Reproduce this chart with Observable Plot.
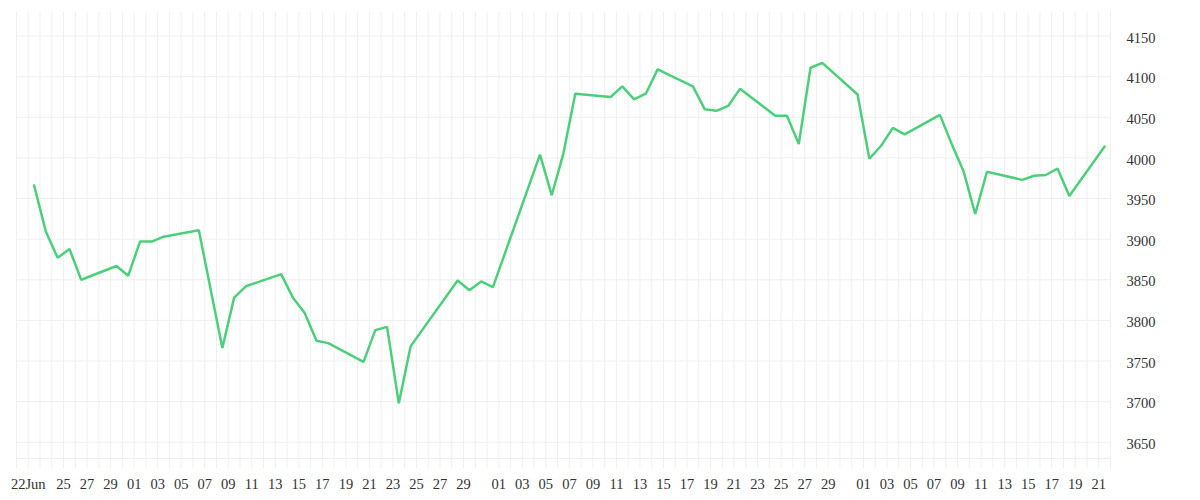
<!DOCTYPE html>
<html>
<head>
<meta charset="utf-8">
<script src="https://cdn.jsdelivr.net/npm/d3@7"></script>
<script src="https://cdn.jsdelivr.net/npm/@observablehq/plot@0.6"></script>
<style>
  html, body { margin: 0; padding: 0; background: #ffffff; }
  #chart svg { display: block; }
  #chart svg text { font-family: "Liberation Serif", "Times New Roman", "DejaVu Serif", serif !important; font-size: 14.5px !important; }
</style>
</head>
<body>
<div id="chart"></div>
<script>
// ---- data ----
const dates = [
  "2020-06-22","2020-06-23","2020-06-24","2020-06-25","2020-06-26","2020-06-29","2020-06-30",
  "2020-07-01","2020-07-02","2020-07-03","2020-07-06","2020-07-08","2020-07-09","2020-07-10",
  "2020-07-13","2020-07-14","2020-07-15","2020-07-16","2020-07-17","2020-07-20","2020-07-21",
  "2020-07-22","2020-07-23","2020-07-24","2020-07-28","2020-07-29","2020-07-30","2020-07-31",
  "2020-08-04","2020-08-05","2020-08-06","2020-08-07","2020-08-10","2020-08-11","2020-08-12",
  "2020-08-13","2020-08-14","2020-08-17","2020-08-18","2020-08-19","2020-08-20","2020-08-21",
  "2020-08-24","2020-08-25","2020-08-26","2020-08-27","2020-08-28","2020-08-31",
  "2020-09-01","2020-09-02","2020-09-03","2020-09-04","2020-09-07","2020-09-08","2020-09-09",
  "2020-09-10","2020-09-11","2020-09-14","2020-09-15","2020-09-16","2020-09-17","2020-09-18",
  "2020-09-21"
];
const values = [
  3966, 3909, 3877, 3888, 3850, 3867, 3855,
  3897, 3897, 3903, 3911, 3766, 3828, 3842,
  3857, 3828, 3809, 3775, 3772, 3749, 3788,
  3792, 3698, 3768, 3849, 3837, 3848, 3841,
  4004, 3954, 4006, 4079, 4075, 4088, 4072,
  4079, 4109, 4088, 4060, 4058, 4064, 4085,
  4052, 4052, 4017, 4111, 4117, 4078,
  3999, 4015, 4037, 4029, 4053, 4017, 3984,
  3931, 3983, 3973, 3978, 3979, 3987, 3953,
  4014
];
const yTicks = [3650, 3700, 3750, 3800, 3850, 3900, 3950, 4000, 4050, 4100, 4150];
const xLabelDates = [
  "2020-06-22","2020-06-25","2020-06-27","2020-06-29",
  "2020-07-01","2020-07-03","2020-07-05","2020-07-07","2020-07-09","2020-07-11","2020-07-13",
  "2020-07-15","2020-07-17","2020-07-19","2020-07-21","2020-07-23","2020-07-25","2020-07-27","2020-07-29",
  "2020-08-01","2020-08-03","2020-08-05","2020-08-07","2020-08-09","2020-08-11","2020-08-13",
  "2020-08-15","2020-08-17","2020-08-19","2020-08-21","2020-08-23","2020-08-25","2020-08-27","2020-08-29",
  "2020-09-01","2020-09-03","2020-09-05","2020-09-07","2020-09-09","2020-09-11","2020-09-13",
  "2020-09-15","2020-09-17","2020-09-19","2020-09-21"
];
const xDomain = ["2020-06-21", "2020-09-22"];
const yDomain = [3630, 4179];

// ---- build ----
const parse = d3.utcParse("%Y-%m-%d");
const series = dates.map((d, i) => ({date: d3.utcHour.offset(parse(d), 12), value: values[i]}));
const xStart = parse(xDomain[0]);
const xEnd = parse(xDomain[1]);
const dayTicks = d3.utcDay.range(xStart, d3.utcDay.offset(xEnd, 1));
const labelTicks = xLabelDates.map(parse);

const gridColor = "#efefef";
const textColor = "#333333";
const lineColor = "#4ccf7b";

const chart = Plot.plot({
  width: 1200,
  height: 500,
  marginTop: 12,
  marginBottom: 42,
  marginLeft: 16,
  marginRight: 90,
  style: {fontFamily: "'Liberation Serif', serif", fontSize: "14.5px", color: textColor, background: "#ffffff"},
  x: {type: "utc", domain: [xStart, xEnd], label: null},
  y: {domain: yDomain, label: null},
  marks: [
    Plot.gridX(dayTicks, {stroke: gridColor, strokeOpacity: 1, insetBottom: -10}),
    Plot.gridY(yTicks, {stroke: gridColor, strokeOpacity: 1}),
    Plot.ruleY([yDomain[0]], {stroke: gridColor, strokeWidth: 1}),
    Plot.axisX(labelTicks, {
      tickSize: 0, tickPadding: 20, label: null, fill: textColor,
      tickFormat: (d, i) => i === 0 ? d3.utcFormat("%d%b")(d) : d3.utcFormat("%d")(d)
    }),
    Plot.axisY(yTicks, {anchor: "right", tickSize: 0, tickPadding: 16, label: null, fill: textColor, dy: 2, tickFormat: d3.format("d")}),
    Plot.lineY(series, {x: "date", y: "value", stroke: lineColor, strokeWidth: 2.5, strokeLinejoin: "miter", strokeLinecap: "round"})
  ]
});
document.getElementById("chart").appendChild(chart);
</script>
</body>
</html>
